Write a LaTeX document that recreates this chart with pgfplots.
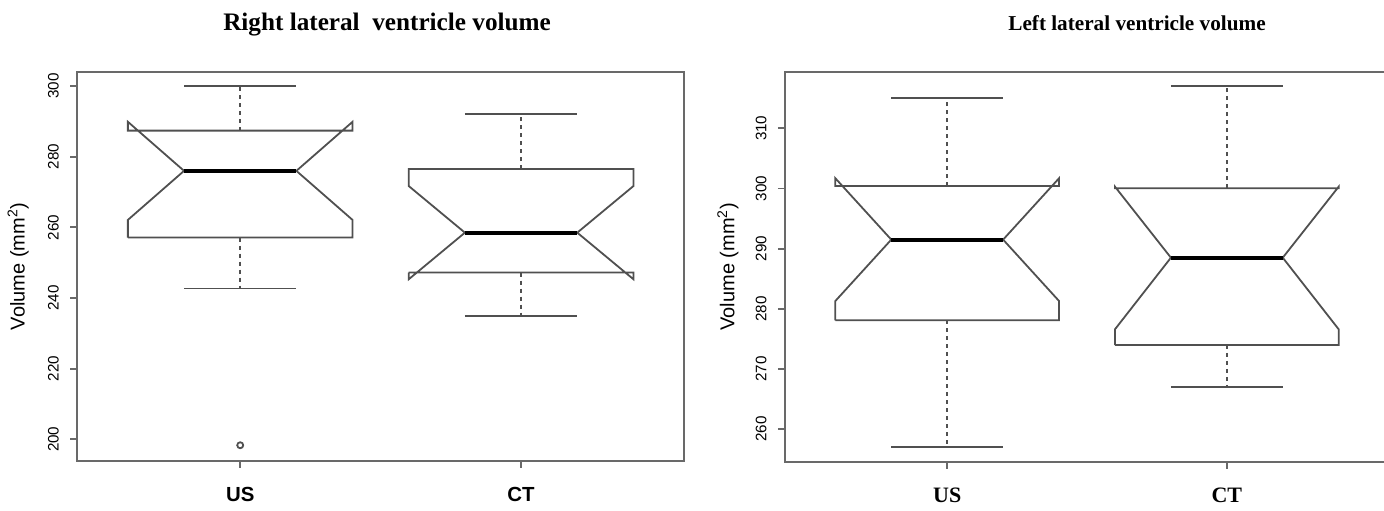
\documentclass[border=0pt]{standalone}
\usepackage{pgfplots}
\pgfplotsset{compat=1.18}
\usepackage{fontspec}
\setmainfont{Liberation Sans}
\newfontfamily\seriffont{Liberation Serif}
\definecolor{boxgray}{RGB}{80,80,80}
\definecolor{framegray}{RGB}{105,105,105}
\pgfplotsset{
  rbase/.style={
    scale only axis, anchor=south west,
    xmin=0.42, xmax=2.58,
    axis line style={framegray, line width=1pt},
    tick style={framegray, line width=0.9pt},
    tick align=outside, major tick length=3.6pt,
    xtick={1,2}, xticklabels={US,CT},
    ytick pos=left, xtick pos=bottom,
    /pgf/number format/assume math mode=true,
    /pgf/number format/1000 sep={},
    tick label style={font=\fontsize{7.6}{9}\selectfont},
    every y tick label/.style={xshift=-5.5pt, rotate=90, anchor=south, inner sep=0pt},
    ylabel={Volume (mm\textsuperscript{2})},
    label style={font=\fontsize{7.6}{9}\selectfont},
    xticklabel style={anchor=base, yshift=-17pt},
    every axis title/.style={at={(rel axis cs:0.5,1)}, anchor=base},
    clip=false,
  },
  boxl/.style={boxgray, line width=0.9pt, line join=miter},
  whisk/.style={boxgray, line width=0.9pt, dash pattern=on 2pt off 2pt},
  cap/.style={boxgray, line width=0.9pt},
  med/.style={black, line width=2pt},
}
\begin{document}
\begin{tikzpicture}
\clip (0,0) rectangle (692pt,255pt);
% ---------------- left panel ----------------
\begin{axis}[rbase,
  at={(38.65pt,24.65pt)}, width=303.35pt, height=194.5pt,
  ymin=193.92, ymax=304.08, ytick={200,220,240,260,280,300},
  xticklabel style={font=\fontsize{10.2}{11}\selectfont\bfseries},
  every axis y label/.style={at={(rel axis cs:0,0.5)}, xshift=-29.6pt, rotate=90, anchor=center},
  title={\seriffont\bfseries\fontsize{12.6}{14}\selectfont Right lateral\ \ ventricle volume},
  title style={yshift=20.8pt, xshift=3.2pt},
]
% US
\addplot[boxl] coordinates {(0.6,257.1) (0.6,262.1) (0.8,276.0) (0.6,289.9) (0.6,287.4) (1.4,287.4) (1.4,289.9) (1.2,276.0) (1.4,262.1) (1.4,257.1) (0.6,257.1)};
\addplot[whisk] coordinates {(1,287.4) (1,300)};
\addplot[whisk] coordinates {(1,257.1) (1,242.7)};
\addplot[cap] coordinates {(0.8,300) (1.2,300)};
\addplot[cap] coordinates {(0.8,242.7) (1.2,242.7)};
\addplot[med] coordinates {(0.8,276.0) (1.2,276.0)};
\addplot[only marks, mark=o, mark size=1.5pt, mark options={boxgray, line width=0.9pt}] coordinates {(1,198.3)};
% CT
\addplot[boxl] coordinates {(1.6,247.2) (1.6,245.3) (1.8,258.5) (1.6,271.7) (1.6,276.5) (2.4,276.5) (2.4,271.7) (2.2,258.5) (2.4,245.3) (2.4,247.2) (1.6,247.2)};
\addplot[whisk] coordinates {(2,276.5) (2,292)};
\addplot[whisk] coordinates {(2,247.2) (2,234.8)};
\addplot[cap] coordinates {(1.8,292) (2.2,292)};
\addplot[cap] coordinates {(1.8,234.8) (2.2,234.8)};
\addplot[med] coordinates {(1.8,258.5) (2.2,258.5)};
\end{axis}
% ---------------- right panel ----------------
\begin{axis}[rbase,
  at={(392.5pt,24.15pt)}, width=302pt, height=195pt,
  ymin=254.6, ymax=319.4, ytick={260,270,280,290,300,310},
  xticklabel style={font=\seriffont\fontsize{11}{12}\selectfont\bfseries},
  every axis y label/.style={at={(rel axis cs:0,0.5)}, xshift=-28.5pt, rotate=90, anchor=center},
  title={\seriffont\bfseries\fontsize{10.6}{12}\selectfont Left lateral ventricle volume},
  title style={yshift=20.8pt, xshift=25pt},
]
% US
\addplot[boxl] coordinates {(0.6,278.1) (0.6,281.3) (0.8,291.5) (0.6,301.7) (0.6,300.4) (1.4,300.4) (1.4,301.7) (1.2,291.5) (1.4,281.3) (1.4,278.1) (0.6,278.1)};
\addplot[whisk] coordinates {(1,300.4) (1,315)};
\addplot[whisk] coordinates {(1,278.1) (1,257)};
\addplot[cap] coordinates {(0.8,315) (1.2,315)};
\addplot[cap] coordinates {(0.8,257) (1.2,257)};
\addplot[med] coordinates {(0.8,291.5) (1.2,291.5)};
% CT
\addplot[boxl] coordinates {(1.6,274.0) (1.6,276.6) (1.8,288.5) (1.6,300.3) (1.6,300.05) (2.4,300.05) (2.4,300.3) (2.2,288.5) (2.4,276.6) (2.4,274.0) (1.6,274.0)};
\addplot[whisk] coordinates {(2,300.05) (2,317)};
\addplot[whisk] coordinates {(2,274) (2,267)};
\addplot[cap] coordinates {(1.8,317) (2.2,317)};
\addplot[cap] coordinates {(1.8,267) (2.2,267)};
\addplot[med] coordinates {(1.8,288.5) (2.2,288.5)};
\end{axis}
\end{tikzpicture}
\end{document}
